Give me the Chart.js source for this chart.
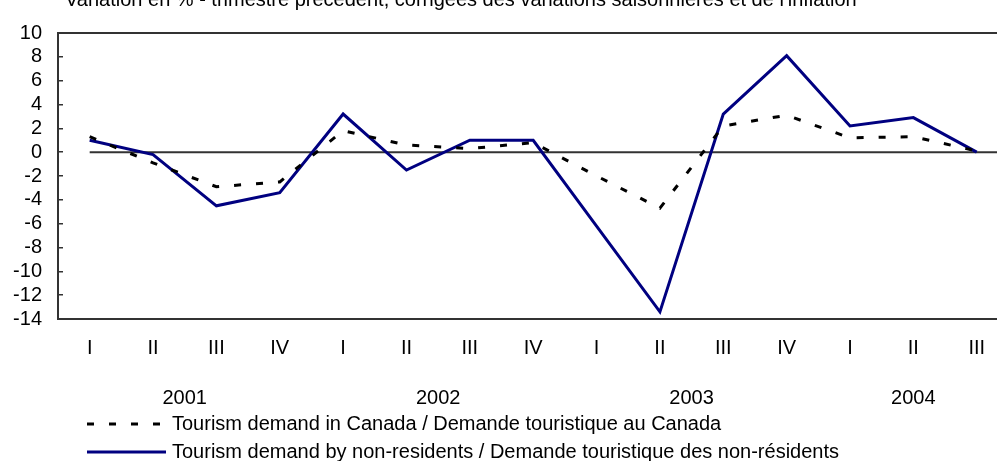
<!DOCTYPE html>
<html>
<head>
  <meta charset="UTF-8">
  <title>Demande touristique</title>
  <script src="https://cdn.jsdelivr.net/npm/chart.js"></script>
  <style>
    body { margin: 0; background: #fff; overflow: hidden; }
  </style>
</head>
<body>
  <canvas id="chart" width="997" height="461"></canvas>

  <script>
    const quarters = ['I', 'II', 'III', 'IV', 'I', 'II', 'III', 'IV', 'I', 'II', 'III', 'IV', 'I', 'II', 'III'];
    const years = ['2001', '2002', '2003', '2004'];
    const canada = [1.3, -0.9, -2.9, -2.5, 1.8, 0.6, 0.3, 0.8, -2.0, -4.7, 2.2, 3.1, 1.2, 1.3, 0.1];
    const nonResidents = [1.0, -0.2, -4.5, -3.4, 3.2, -1.5, 1.0, 1.0, -6.2, -13.4, 3.2, 8.1, 2.2, 2.9, 0.0];
    const seriesNames = [
      'Tourism demand in Canada / Demande touristique au Canada',
      'Tourism demand by non-residents / Demande touristique des non-résidents'
    ];
    const titleText = "Variation en % - trimestre précédent, corrigées des variations saisonnières et de l'inflation";

    // middle of each year's run of quarters (a year starts at quarter I)
    const yearCentres = [];
    quarters.forEach((q, i) => {
      if (q === 'I') yearCentres.push([i, i]);
      else yearCentres[yearCentres.length - 1][1] = i;
    });
    const yearTicks = yearCentres.map(r => (r[0] + r[1]) / 2);

    const fontFamily = "'Liberation Sans', Arial, sans-serif";
    const font = { family: fontFamily, size: 20 };
    const xMin = -0.5, xMax = 14.32;

    // no edge padding for the last tick labels, the plot runs off the right side
    const noPad = s => { s.paddingLeft = 0; s.paddingRight = 0; };

    const titlePlugin = {
      id: 'titleText',
      afterDraw(chart) {
        const ctx = chart.ctx;
        ctx.save();
        ctx.font = '20px ' + fontFamily;
        ctx.fillStyle = '#000';
        ctx.textBaseline = 'alphabetic';
        ctx.fillText(titleText, 65, 6);
        ctx.restore();
      }
    };

    const zeroLine = {
      id: 'zeroLine',
      beforeDatasetsDraw(chart) {
        const { ctx, chartArea, scales } = chart;
        const y = scales.y.getPixelForValue(0);
        ctx.save();
        ctx.strokeStyle = '#333';
        ctx.lineWidth = 2;
        ctx.beginPath();
        ctx.moveTo(scales.x.getPixelForValue(0), y);
        ctx.lineTo(chartArea.right, y);
        ctx.stroke();
        ctx.restore();
      }
    };

    const legendRows = {
      id: 'legendRows',
      afterDraw(chart) {
        const ctx = chart.ctx;
        const rows = [424, 452];
        chart.data.datasets.forEach((ds, i) => {
          const y = rows[i];
          ctx.save();
          ctx.strokeStyle = ds.borderColor;
          ctx.lineWidth = ds.borderWidth;
          ctx.setLineDash(ds.borderDash || []);
          ctx.beginPath();
          ctx.moveTo(87, y);
          ctx.lineTo(ds.borderDash ? 162 : 166, y);
          ctx.stroke();
          ctx.setLineDash([]);
          ctx.fillStyle = '#000';
          ctx.font = '20px ' + fontFamily;
          ctx.textBaseline = 'middle';
          ctx.fillText(ds.label, 172, y);
          ctx.restore();
        });
      }
    };

    new Chart(document.getElementById('chart'), {
      type: 'line',
      data: {
        datasets: [
          {
            label: seriesNames[0],
            data: canada.map((v, i) => ({ x: i, y: v })),
            borderColor: '#000',
            borderWidth: 3,
            borderDash: [7, 15],
            pointRadius: 0,
            tension: 0,
            fill: false
          },
          {
            label: seriesNames[1],
            data: nonResidents.map((v, i) => ({ x: i, y: v })),
            borderColor: '#000080',
            borderWidth: 3,
            pointRadius: 0,
            tension: 0,
            fill: false
          }
        ]
      },
      options: {
        responsive: false,
        animation: false,
        layout: { padding: { top: 19, right: 0, bottom: 52, left: 0 } },
        plugins: {
          legend: { display: false },
          tooltip: { enabled: false }
        },
        scales: {
          x: {
            type: 'linear',
            position: 'bottom',
            min: xMin,
            max: xMax,
            afterBuildTicks: s => { s.ticks = quarters.map((q, i) => ({ value: i })); },
            afterFit: s => { s.height = 50; noPad(s); },
            ticks: {
              callback: v => quarters[Math.round(v)],
              font: font,
              color: '#000',
              padding: 17,
              autoSkip: false,
              maxRotation: 0
            },
            grid: { drawOnChartArea: false, drawTicks: false },
            border: { color: '#333', width: 2 }
          },
          xYear: {
            type: 'linear',
            position: 'bottom',
            weight: 1,
            min: xMin,
            max: xMax,
            afterBuildTicks: s => { s.ticks = yearTicks.map(v => ({ value: v })); },
            afterFit: s => { s.height = 40; noPad(s); },
            ticks: {
              callback: (v, i) => years[i],
              font: font,
              color: '#000',
              padding: 17,
              autoSkip: false,
              maxRotation: 0
            },
            grid: { display: false, drawTicks: false },
            border: { display: false }
          },
          xTop: {
            type: 'linear',
            position: 'top',
            min: xMin,
            max: xMax,
            afterFit: s => { s.height = 0; noPad(s); },
            ticks: { display: false },
            grid: { drawOnChartArea: false, drawTicks: false },
            border: { color: '#333', width: 2 }
          },
          y: {
            min: -14,
            max: 10,
            afterFit: s => { s.width = 58; },
            ticks: {
              stepSize: 2,
              autoSkip: false,
              font: font,
              color: '#000',
              padding: 21
            },
            grid: { drawOnChartArea: false, tickLength: -5, color: '#333', lineWidth: 1.5 },
            border: { color: '#333', width: 2 }
          }
        }
      },
      plugins: [titlePlugin, zeroLine, legendRows]
    });
  </script>
</body>
</html>
